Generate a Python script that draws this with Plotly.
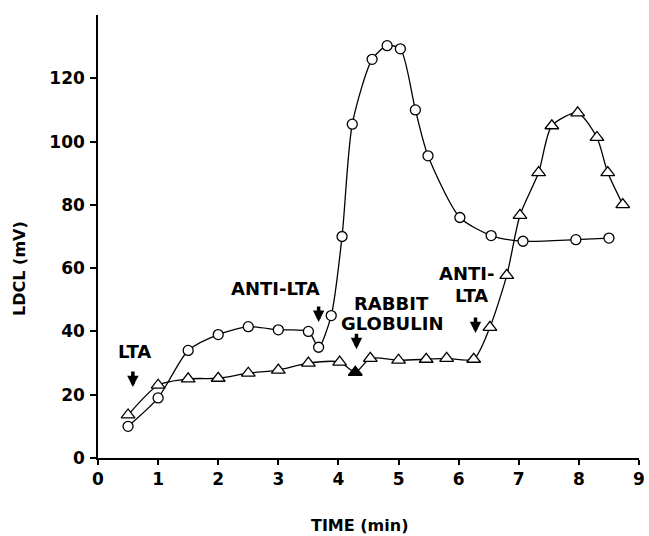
import plotly.graph_objects as go

# Circles series
circ_t = [0.5, 1.0, 1.5, 2.0, 2.5, 3.0, 3.5, 3.67, 3.88, 4.06, 4.23, 4.56, 4.81, 5.03, 5.28, 5.49, 6.02, 6.54, 7.07, 7.95, 8.5]
circ_v = [10, 19, 34, 39, 41.5, 40.5, 40, 35, 45, 70, 105.5, 126, 130.3, 129.3, 110, 95.5, 76, 70.3, 68.5, 69, 69.5]

# Triangles series
tri_t = [0.5, 1.0, 1.5, 2.0, 2.5, 3.0, 3.5, 4.02, 4.28, 4.53, 5.0, 5.46, 5.8, 6.25, 6.52, 6.8, 7.02, 7.33, 7.55, 7.98, 8.3, 8.48, 8.73]
tri_v = [13.6, 23, 25, 25.2, 26.8, 27.8, 30, 30.3, 27.1, 31.5, 30.9, 31.2, 31.5, 31.2, 41.3, 57.7, 76.7, 90.2, 105, 109.1, 101.3, 90.2, 80.1]
tri_fill = ["white"] * 8 + ["black"] + ["white"] * 14

x_ticks = [0, 1, 2, 3, 4, 5, 6, 7, 8, 9]
y_ticks = [0, 20, 40, 60, 80, 100, 120]

# Labels: (text, x, y)
labels = [
    ("LTA", 0.61, 33.8),
    ("ANTI-LTA", 2.95, 53.7),
    ("RABBIT", 4.89, 48.9),
    ("GLOBULIN", 4.89, 42.6),
    ("ANTI-", 6.13, 58.4),
    ("LTA", 6.21, 51.5),
]
# Arrow tips: (x, y)
arrows = [(0.58, 22.4), (3.67, 43.0), (4.3, 34.4), (6.28, 39.5)]

FONT = "DejaVu Sans, Liberation Sans, Arial, sans-serif"

fig = go.Figure()
fig.add_trace(go.Scatter(
    x=circ_t, y=circ_v, mode="lines+markers",
    line=dict(color="black", width=1.3, shape="spline", smoothing=0.7),
    marker=dict(symbol="circle", size=10, color="white", line=dict(color="black", width=1.3)),
    showlegend=False,
))
fig.add_trace(go.Scatter(
    x=tri_t, y=tri_v, mode="lines+markers",
    line=dict(color="black", width=1.3, shape="spline", smoothing=0.7),
    marker=dict(symbol="triangle-up", size=12, color=tri_fill, line=dict(color="black", width=1.3)),
    showlegend=False,
))

for txt, x, y in labels:
    fig.add_annotation(x=x, y=y, text=txt, showarrow=False,
                       font=dict(family=FONT, size=18, color="black", weight="bold"))
for x, y in arrows:
    fig.add_annotation(x=x, y=y, ax=0, ay=-17, text="", showarrow=True,
                       arrowhead=2, arrowsize=0.65, arrowwidth=3.5, arrowcolor="black",
                       axref="pixel", ayref="pixel")

fig.add_annotation(xref="paper", yref="paper", x=(362 - 98) / 547, y=-(525 - 458) / 443,
                   text="TIME (min)", showarrow=False, yanchor="middle",
                   font=dict(family=FONT, size=16, color="black", weight="bold"))
fig.add_annotation(xref="paper", yref="paper", x=-(98 - 18) / 547, y=(458 - 268) / 443,
                   text="LDCL (mV)", showarrow=False, textangle=-90, xanchor="center",
                   font=dict(family=FONT, size=16, color="black", weight="bold"))

fig.update_layout(
    width=649, height=536,
    margin=dict(l=98, r=4, t=15, b=78),
    paper_bgcolor="white", plot_bgcolor="white",
    font=dict(family=FONT, size=17, color="black"),
)
fig.update_xaxes(range=[0, 9], tickvals=x_ticks, ticktext=[str(v) for v in x_ticks],
                 showline=True, linecolor="black", linewidth=1.5, showgrid=False, zeroline=False,
                 ticks="outside", ticklen=5, tickwidth=1.5, tickcolor="black",
                 ticklabeloverflow="allow",
                 tickfont=dict(family=FONT, size=17, color="black", weight="bold"))
fig.update_yaxes(range=[0, 140], tickvals=y_ticks, ticktext=[str(v) for v in y_ticks],
                 showline=True, linecolor="black", linewidth=1.5, showgrid=False, zeroline=False,
                 ticks="outside", ticklen=6, tickwidth=1.5, tickcolor="black",
                 ticklabelstandoff=2,
                 tickfont=dict(family=FONT, size=17, color="black", weight="bold"))

fig.write_html("out.html")
